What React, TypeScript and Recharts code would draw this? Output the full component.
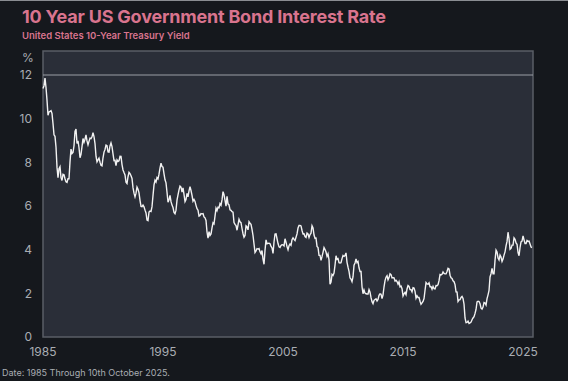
import React from "react";
import { LineChart, Line, XAxis, YAxis, ReferenceLine, ReferenceArea } from "recharts";

const startYear = 1985;
const yearTicks = [1985, 1995, 2005, 2015, 2025];
const rateTicks = [0, 2, 4, 6, 8, 10, 12];

// monthly average yields, Jan..Dec, one row per year
const y1985 = [11.38, 11.51, 11.86, 11.43, 10.85, 10.16, 10.31, 10.33, 10.37, 10.24, 9.78, 9.26];
const y1986 = [9.19, 8.7, 7.78, 7.3, 7.71, 7.8, 7.3, 7.17, 7.45, 7.43, 7.25, 7.11];
const y1987 = [7.08, 7.25, 7.25, 8.02, 8.61, 8.4, 8.45, 8.76, 9.42, 9.52, 8.86, 8.99];
const y1988 = [8.67, 8.21, 8.37, 8.72, 9.09, 8.92, 9.06, 9.26, 8.98, 8.8, 8.96, 9.11];
const y1989 = [9.09, 9.17, 9.36, 9.18, 8.86, 8.28, 8.02, 8.11, 8.19, 8.01, 7.87, 7.84];
const y1990 = [8.21, 8.47, 8.59, 8.79, 8.76, 8.48, 8.47, 8.75, 8.89, 8.72, 8.39, 8.08];
const y1991 = [8.09, 7.85, 8.11, 8.04, 8.07, 8.28, 8.27, 7.9, 7.65, 7.53, 7.42, 7.09];
const y1992 = [7.03, 7.34, 7.54, 7.48, 7.39, 7.26, 6.84, 6.59, 6.42, 6.59, 6.87, 6.77];
const y1993 = [6.6, 6.26, 5.98, 5.97, 6.04, 5.96, 5.81, 5.68, 5.36, 5.33, 5.72, 5.77];
const y1994 = [5.75, 5.97, 6.48, 6.97, 7.18, 7.1, 7.3, 7.24, 7.46, 7.74, 7.96, 7.81];
const y1995 = [7.78, 7.47, 7.2, 7.06, 6.63, 6.17, 6.28, 6.49, 6.2, 6.04, 5.93, 5.71];
const y1996 = [5.65, 5.81, 6.27, 6.51, 6.74, 6.91, 6.87, 6.64, 6.83, 6.53, 6.2, 6.3];
const y1997 = [6.58, 6.42, 6.69, 6.89, 6.71, 6.49, 6.22, 6.3, 6.21, 6.03, 5.88, 5.81];
const y1998 = [5.54, 5.57, 5.65, 5.64, 5.65, 5.5, 5.46, 5.34, 4.81, 4.53, 4.83, 4.65];
const y1999 = [4.72, 5.0, 5.23, 5.18, 5.54, 5.9, 5.79, 5.94, 5.92, 6.11, 6.03, 6.28];
const y2000 = [6.66, 6.52, 6.26, 5.99, 6.44, 6.1, 6.05, 5.83, 5.8, 5.74, 5.72, 5.24];
const y2001 = [5.16, 5.1, 4.89, 5.14, 5.39, 5.28, 5.24, 4.97, 4.73, 4.57, 4.65, 5.09];
const y2002 = [5.04, 4.91, 5.28, 5.21, 5.16, 4.93, 4.65, 4.26, 3.87, 3.94, 4.05, 4.03];
const y2003 = [4.05, 3.9, 3.81, 3.96, 3.57, 3.33, 3.98, 4.45, 4.27, 4.29, 4.3, 4.27];
const y2004 = [4.15, 4.08, 3.83, 4.35, 4.72, 4.73, 4.5, 4.28, 4.13, 4.1, 4.19, 4.23];
const y2005 = [4.22, 4.17, 4.5, 4.34, 4.14, 4.0, 4.18, 4.26, 4.2, 4.46, 4.54, 4.47];
const y2006 = [4.42, 4.57, 4.72, 4.99, 5.11, 5.11, 5.09, 4.88, 4.72, 4.73, 4.6, 4.56];
const y2007 = [4.76, 4.72, 4.56, 4.69, 4.75, 5.1, 5.0, 4.67, 4.52, 4.53, 4.15, 4.1];
const y2008 = [3.74, 3.74, 3.51, 3.68, 3.88, 4.1, 4.01, 3.89, 3.69, 3.81, 3.53, 2.42];
const y2009 = [2.52, 2.87, 2.82, 2.93, 3.29, 3.72, 3.56, 3.59, 3.4, 3.39, 3.4, 3.59];
const y2010 = [3.73, 3.69, 3.73, 3.85, 3.42, 3.2, 3.01, 2.7, 2.65, 2.54, 2.76, 3.29];
const y2011 = [3.39, 3.58, 3.41, 3.46, 3.17, 3.0, 3.0, 2.3, 1.98, 2.15, 2.01, 1.98];
const y2012 = [1.97, 1.97, 2.17, 2.05, 1.8, 1.62, 1.53, 1.68, 1.72, 1.75, 1.65, 1.72];
const y2013 = [1.91, 1.98, 1.96, 1.76, 1.93, 2.3, 2.58, 2.74, 2.81, 2.62, 2.72, 2.9];
const y2014 = [2.86, 2.71, 2.72, 2.71, 2.56, 2.6, 2.54, 2.42, 2.53, 2.3, 2.33, 2.21];
const y2015 = [1.88, 1.98, 2.04, 1.94, 2.2, 2.36, 2.32, 2.17, 2.17, 2.07, 2.26, 2.24];
const y2016 = [2.09, 1.78, 1.89, 1.81, 1.81, 1.64, 1.5, 1.56, 1.63, 1.76, 2.14, 2.49];
const y2017 = [2.43, 2.42, 2.48, 2.3, 2.3, 2.19, 2.32, 2.21, 2.2, 2.36, 2.35, 2.4];
const y2018 = [2.58, 2.86, 2.84, 2.87, 2.98, 2.91, 2.89, 2.89, 3.0, 3.15, 3.12, 2.83];
const y2019 = [2.71, 2.68, 2.57, 2.53, 2.4, 2.07, 2.06, 1.63, 1.7, 1.71, 1.81, 1.86];
const y2020 = [1.76, 1.5, 0.87, 0.66, 0.67, 0.73, 0.62, 0.65, 0.68, 0.79, 0.87, 0.93];
const y2021 = [1.08, 1.26, 1.61, 1.64, 1.62, 1.52, 1.32, 1.28, 1.37, 1.58, 1.56, 1.47];
const y2022 = [1.76, 1.93, 2.13, 2.75, 2.9, 3.14, 2.9, 2.9, 3.52, 3.98, 3.89, 3.62];
const y2023 = [3.53, 3.75, 3.66, 3.46, 3.57, 3.75, 3.9, 4.17, 4.38, 4.8, 4.5, 4.02];
const y2024 = [4.06, 4.21, 4.21, 4.54, 4.48, 4.31, 4.25, 3.87, 3.72, 4.1, 4.36, 4.39];
const y2025 = [4.63, 4.45, 4.28, 4.28, 4.42, 4.38, 4.39, 4.26, 4.12, 4.1];

const years = [
  y1985, y1986, y1987, y1988, y1989, y1990, y1991, y1992, y1993, y1994,
  y1995, y1996, y1997, y1998, y1999, y2000, y2001, y2002, y2003, y2004,
  y2005, y2006, y2007, y2008, y2009, y2010, y2011, y2012, y2013, y2014,
  y2015, y2016, y2017, y2018, y2019, y2020, y2021, y2022, y2023, y2024, y2025,
];

const data = years.flatMap((row, i) =>
  row.map((v, m) => ({ t: startYear + i + m / 12, rate: v }))
);

const bg = "#15181d";
const plotBg = "#2a2e38";
const pink = "#d9748e";
const tickColor = "#a9adb3";
const font = "Inter, 'Noto Sans', sans-serif";

export default function App() {
  return (
    <div style={{ position: "fixed", left: 0, top: 0, width: 568, height: 381, background: bg, fontFamily: font, overflow: "hidden" }}>
      <div style={{ position: "absolute", left: 0, top: 0, width: 568, height: 1, background: "#8a8d92" }} />
      <div style={{ position: "absolute", left: 22, top: 6, fontSize: 18, fontWeight: 700, color: pink, letterSpacing: -0.2 }}>
        10 Year US Government Bond Interest Rate
      </div>
      <div style={{ position: "absolute", left: 22, top: 30, fontSize: 9.5, fontWeight: 600, color: pink }}>
        United States 10-Year Treasury Yield
      </div>
      <div style={{ position: "absolute", left: 22, top: 50, fontSize: 12, color: tickColor }}>%</div>
      <div style={{ position: "absolute", left: 2, top: 367, fontSize: 9, color: tickColor }}>
        Date: 1985 Through 10th October 2025.
      </div>
      <LineChart width={568} height={381} data={data} margin={{ top: 51, right: 35, left: 0, bottom: 14 }}>
        <ReferenceArea x1={1985} x2={2025.83} y1={0} y2={13.1} fill={plotBg} fillOpacity={1} stroke="#5a5e66" strokeWidth={1.5} />
        <XAxis
          type="number"
          dataKey="t"
          domain={[1985, 2025.83]}
          ticks={yearTicks}
          axisLine={false}
          tickLine={false}
          tickSize={0}
          tickMargin={10}
          height={30}
          tick={{ fill: tickColor, fontSize: 12, fontFamily: font }}
        />
        <YAxis
          type="number"
          domain={[0, 13.1]}
          ticks={rateTicks}
          axisLine={false}
          tickLine={false}
          tickSize={0}
          tickMargin={11}
          width={43}
          tick={{ fill: tickColor, fontSize: 12, fontFamily: font }}
        />
        <ReferenceLine y={12} stroke="#9a9ea5" strokeWidth={1} />
        <Line type="linear" dataKey="rate" stroke="#f2f2f2" strokeWidth={1.4} dot={false} isAnimationActive={false} />
      </LineChart>
    </div>
  );
}
